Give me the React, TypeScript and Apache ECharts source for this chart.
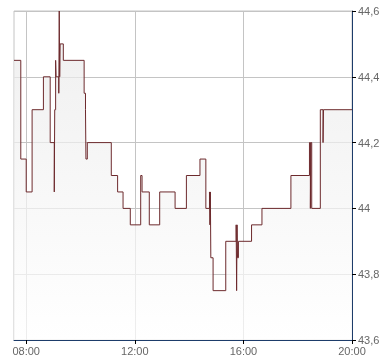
import React, { useEffect, useRef } from "react";
import * as echarts from "echarts";

// Intraday price ticks (time of change, new price)
const tickTimes = [
  "07:33", "07:48", "08:00", "08:13", "08:38", "08:53", "09:02", "09:03",
  "09:05", "09:06", "09:12", "09:13", "09:14", "09:15", "09:22", "10:08",
  "10:11", "10:12", "10:15", "11:08", "11:22", "11:34", "11:50", "12:13",
  "12:16", "12:32", "12:55", "13:29", "13:54", "14:24", "14:37", "14:45",
  "14:46", "14:47", "14:48", "14:53", "15:21", "15:44", "15:45", "15:46",
  "15:47", "15:49", "16:18", "16:41", "17:45", "18:26", "18:28", "18:29",
  "18:31", "18:50", "18:56", "18:57", "20:00",
];
const tickPrices = [
  44.45, 44.15, 44.05, 44.3, 44.4, 44.2, 44.05, 44.3,
  44.45, 44.4, 44.35, 44.6, 44.4, 44.5, 44.45, 44.35,
  44.3, 44.15, 44.2, 44.1, 44.05, 44.0, 43.95, 44.1,
  44.05, 43.95, 44.05, 44.0, 44.1, 44.15, 44.0, 44.05,
  43.95, 44.05, 43.85, 43.75, 43.9, 43.95, 43.75, 43.95,
  43.85, 43.9, 43.95, 44.0, 44.1, 44.2, 44.0, 44.2,
  44.0, 44.3, 44.2, 44.3, 44.3,
];
const xTickLabels = ["08:00", "12:00", "16:00", "20:00"];
const xStart = "07:33";
const xEnd = "20:00";
const yMin = 43.6;
const yMax = 44.6;
const yStep = 0.2;

const toMin = (s: string) => {
  const [h, m] = s.split(":").map(Number);
  return h * 60 + m;
};
const toHHMM = (v: number) => {
  const h = Math.floor(v / 60);
  const m = Math.round(v - h * 60);
  return String(h).padStart(2, "0") + ":" + String(m).padStart(2, "0");
};

export default function App() {
  const ref = useRef<HTMLDivElement>(null);
  useEffect(() => {
    if (!ref.current) return;
    const chart = echarts.init(ref.current, undefined, { renderer: "svg" });
    const data = tickTimes.map((t, i) => [toMin(t), tickPrices[i]]);
    const xTickVals = xTickLabels.map(toMin);
    const font = "Arial, 'Liberation Sans', sans-serif";
    chart.setOption({
      animation: false,
      grid: {
        left: 14,
        right: 38,
        top: 11,
        bottom: 24,
        show: true,
        borderColor: "#c4c4c4",
        borderWidth: 1,
        backgroundColor: "transparent",
      },
      xAxis: {
        type: "value",
        min: toMin(xStart),
        max: toMin(xEnd),
        axisLine: { show: true, lineStyle: { color: "#1d3c6a", width: 1 } },
        axisTick: {
          show: true,
          length: 4,
          customValues: xTickVals,
          lineStyle: { color: "#000" },
        },
        axisLabel: {
          customValues: xTickVals,
          formatter: (v: number) => toHHMM(v),
          color: "#666",
          fontSize: 11,
          fontFamily: font,
          margin: 5,
        },
        splitLine: { show: true, lineStyle: { color: "#c4c4c4", width: 1 } },
      },
      yAxis: {
        type: "value",
        position: "right",
        min: yMin,
        max: yMax,
        interval: yStep,
        axisLine: { show: true, lineStyle: { color: "#1d3c6a", width: 1 } },
        axisTick: { show: true, length: 4, lineStyle: { color: "#000" } },
        axisLabel: {
          formatter: (v: number) => String(Math.round(v * 10) / 10).replace(".", ","),
          color: "#666",
          fontSize: 11,
          fontFamily: font,
          margin: 6,
        },
        splitLine: { show: true, lineStyle: { color: "#c4c4c4", width: 1 } },
      },
      series: [
        {
          type: "line",
          step: "end",
          data,
          symbol: "none",
          lineStyle: { color: "#6d2a2d", width: 1 },
          areaStyle: {
            origin: "start",
            color: new echarts.graphic.LinearGradient(0, 0, 0, 1, [
              { offset: 0, color: "#e8e8e8" },
              { offset: 1, color: "#ffffff" },
            ]),
          },
        },
      ],
    });
    return () => chart.dispose();
  }, []);
  return (
    <div
      ref={ref}
      style={{ position: "fixed", left: 0, top: 0, width: 390, height: 364 }}
    />
  );
}
